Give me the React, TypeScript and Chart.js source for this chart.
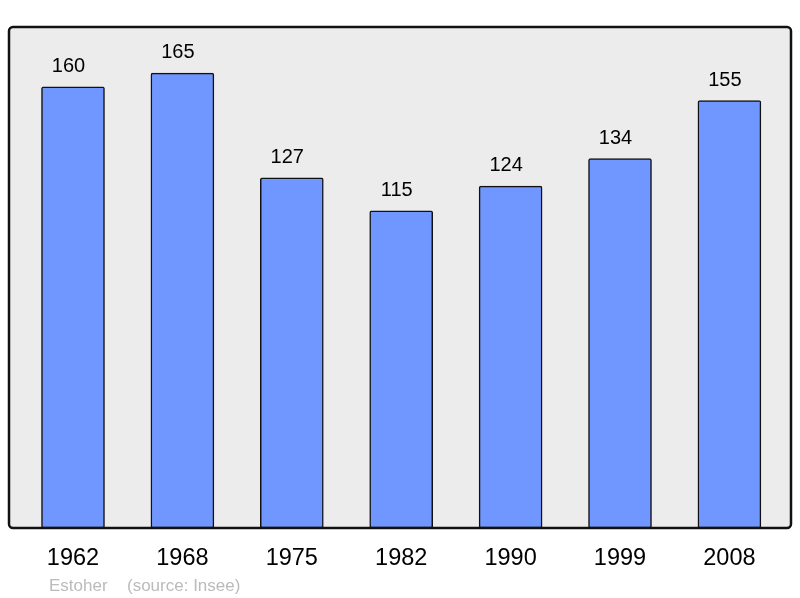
import React, { useEffect, useRef } from "react";
import { Chart, registerables } from "chart.js";

Chart.register(...registerables);

const years = ["1962", "1968", "1975", "1982", "1990", "1999", "2008"];
const population = [160, 165, 127, 115, 124, 134, 155];
const footerName = "Estoher";
const footerSource = "(source: Insee)";

const FONT = "'Liberation Sans', Arial, sans-serif";

export default function App() {
  const ref = useRef<HTMLCanvasElement>(null);

  useEffect(() => {
    document.body.style.margin = "0";
    const canvas = ref.current!;
    const decor = {
      id: "decor",
      beforeDraw(chart: any) {
        const { ctx, chartArea: a } = chart;
        ctx.save();
        ctx.fillStyle = "#ffffff";
        ctx.fillRect(0, 0, chart.width, chart.height);
        ctx.beginPath();
        ctx.roundRect(a.left, a.top, a.right - a.left, a.bottom - a.top, 4);
        ctx.fillStyle = "#ececec";
        ctx.fill();
        ctx.restore();
      },
      afterDatasetsDraw(chart: any) {
        const { ctx, chartArea: a, scales } = chart;
        ctx.save();
        ctx.beginPath();
        ctx.roundRect(a.left, a.top, a.right - a.left, a.bottom - a.top, 4);
        ctx.strokeStyle = "#111111";
        ctx.lineWidth = 2.5;
        ctx.stroke();

        ctx.fillStyle = "#000000";
        ctx.textAlign = "center";
        ctx.textBaseline = "middle";
        ctx.font = `20px ${FONT}`;
        population.forEach((v, i) => {
          const x = scales.x.getPixelForValue(i);
          const y = scales.y.getPixelForValue(v);
          ctx.fillText(String(v), x - 4.5, y - 20.5);
        });
        ctx.font = `23.5px ${FONT}`;
        years.forEach((yr, i) => {
          const x = scales.x.getPixelForValue(i);
          ctx.fillText(yr, x, a.bottom + 30.5);
        });
        ctx.font = `17px ${FONT}`;
        ctx.fillStyle = "#bbbbbb";
        ctx.textAlign = "left";
        ctx.fillText(footerName, 49, a.bottom + 58);
        ctx.fillText(footerSource, 127, a.bottom + 58);
        ctx.restore();
      },
    };

    const chart = new Chart(canvas, {
      type: "bar",
      data: {
        labels: years,
        datasets: [
          {
            data: population.map((v, i) => ({ x: i, y: v })),
            backgroundColor: "#7097ff",
            borderColor: "#111111",
            borderWidth: 1.5,
            borderRadius: 2,
            borderSkipped: false,
            barThickness: 63,
          },
        ],
      },
      options: {
        animation: false,
        responsive: false,
        maintainAspectRatio: false,
        layout: { padding: { left: 9, right: 9, top: 27, bottom: 70 } },
        plugins: { legend: { display: false }, tooltip: { enabled: false } },
        scales: {
          x: { type: "linear", min: -0.585, max: 6.563, offset: false, display: false },
          y: { min: 0, max: 181.7, display: false },
        },
      },
      plugins: [decor],
    });
    return () => chart.destroy();
  }, []);

  return (
    <div style={{ width: 800, height: 598 }}>
      <canvas ref={ref} width={800} height={598} style={{ display: "block" }} />
    </div>
  );
}
